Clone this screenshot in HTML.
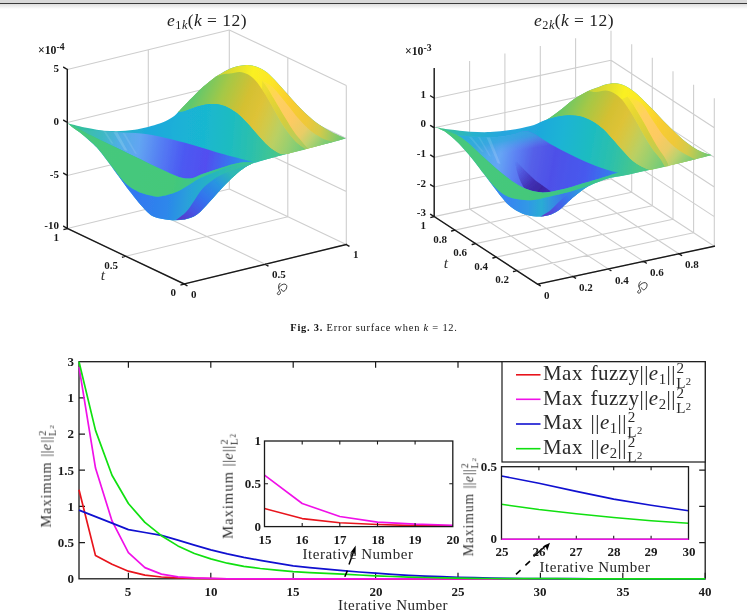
<!DOCTYPE html>
<html><head><meta charset="utf-8"><title>fig</title>
<style>
html,body{margin:0;padding:0;background:#fff;}
body{width:747px;height:611px;position:relative;overflow:hidden;font-family:"Liberation Serif",serif;}
.t{position:absolute;white-space:nowrap;line-height:1;will-change:transform;}
.m{font-style:italic;}
sup,sub{line-height:0;font-size:70%;}
.ss{display:inline-block;position:relative;width:1.1em;}
.ss sup{position:absolute;left:0.05em;top:-0.8em;font-size:72%;}
.ss sub{position:absolute;left:0.02em;top:0.22em;font-size:72%;}
.s1{vertical-align:-0.25em;}
</style></head><body>
<div style="position:absolute;left:0;top:0;width:747px;height:3px;background:#d9d9d9"></div>
<div style="position:absolute;left:0;top:3px;width:747px;height:1px;background:#3a3a3a"></div>
<div style="position:absolute;left:0;top:4px;width:747px;height:5px;background:linear-gradient(#dedede,#fff)"></div>
<svg width="747" height="611" viewBox="0 0 747 611" style="position:absolute;left:0;top:0">

<rect x="79.0" y="361.7" width="626.2" height="217.1" fill="none" stroke="#1a1a1a" stroke-width="1.3"/>
<path d="M128.4 578.8 v-6 M128.4 361.7 v6 M210.8 578.8 v-6 M210.8 361.7 v6 M293.2 578.8 v-6 M293.2 361.7 v6 M375.6 578.8 v-6 M375.6 361.7 v6 M458.0 578.8 v-6 M458.0 361.7 v6 M540.4 578.8 v-6 M540.4 361.7 v6 M622.8 578.8 v-6 M622.8 361.7 v6 M705.2 578.8 v-6 M705.2 361.7 v6 M79.0 542.6 h6 M705.2 542.6 h-6 M79.0 506.4 h6 M705.2 506.4 h-6 M79.0 470.2 h6 M705.2 470.2 h-6 M79.0 434.1 h6 M705.2 434.1 h-6 M79.0 397.9 h6 M705.2 397.9 h-6" stroke="#1a1a1a" stroke-width="1.2" fill="none"/>
<path d="M79.0 489.8 L95.5 555.6 L112.0 564.3 L128.4 571.2 L144.9 575.2 L161.4 577.0 L177.9 577.9 L194.4 578.4 L210.8 578.6 L227.3 578.8 L243.8 578.8 L260.3 578.8 L276.7 578.8 L293.2 578.8 L309.7 578.8 L326.2 578.8 L342.7 578.8 L359.1 578.8 L375.6 578.8 L392.1 578.8 L408.6 578.8 L425.1 578.8 L441.5 578.8 L458.0 578.8 L474.5 578.8 L491.0 578.8 L507.5 578.8 L523.9 578.8 L540.4 578.8 L556.9 578.8 L573.4 578.8 L589.8 578.8 L606.3 578.8 L622.8 578.8 L639.3 578.8 L655.8 578.8 L672.2 578.8 L688.7 578.8 L705.2 578.8" fill="none" stroke="#e8141c" stroke-width="1.7" stroke-linejoin="round"/>
<path d="M79.0 366.8 L95.5 468.1 L112.0 520.9 L128.4 552.7 L144.9 567.6 L161.4 574.1 L177.9 576.8 L194.4 577.9 L210.8 578.4 L227.3 578.8 L243.8 578.8 L260.3 578.8 L276.7 578.8 L293.2 578.8 L309.7 578.8 L326.2 578.8 L342.7 578.8 L359.1 578.8 L375.6 578.8 L392.1 578.8 L408.6 578.8 L425.1 578.8 L441.5 578.8 L458.0 578.8 L474.5 578.8 L491.0 578.8 L507.5 578.8 L523.9 578.8 L540.4 578.8 L556.9 578.8 L573.4 578.8 L589.8 578.8 L606.3 578.8 L622.8 578.8 L639.3 578.8 L655.8 578.8 L672.2 578.8 L688.7 578.8 L705.2 578.8" fill="none" stroke="#f010e8" stroke-width="1.7" stroke-linejoin="round"/>
<path d="M79.0 510.1 L95.5 516.6 L112.0 523.1 L128.4 529.6 L144.9 532.5 L161.4 535.4 L177.9 540.1 L194.4 545.1 L210.8 549.9 L227.3 553.8 L243.8 557.3 L260.3 560.3 L276.7 563.2 L293.2 565.8 L309.7 567.6 L326.2 569.2 L342.7 570.7 L359.1 572.0 L375.6 573.2 L392.1 574.3 L408.6 575.3 L425.1 576.1 L441.5 576.7 L458.0 577.3 L474.5 577.7 L491.0 578.1 L507.5 578.3 L523.9 578.5 L540.4 578.6 L556.9 578.7 L573.4 578.7 L589.8 578.8 L606.3 578.8 L622.8 578.8 L639.3 578.8 L655.8 578.8 L672.2 578.8 L688.7 578.8 L705.2 578.8" fill="none" stroke="#1010d0" stroke-width="1.7" stroke-linejoin="round"/>
<path d="M79.0 361.7 L95.5 430.4 L112.0 475.3 L128.4 503.5 L144.9 522.4 L161.4 535.7 L177.9 545.9 L194.4 553.5 L210.8 558.9 L227.3 563.2 L243.8 566.4 L260.3 568.5 L276.7 570.2 L293.2 571.6 L309.7 572.6 L326.2 573.4 L342.7 574.2 L359.1 575.0 L375.6 575.8 L392.1 576.5 L408.6 577.1 L425.1 577.5 L441.5 577.9 L458.0 578.1 L474.5 578.4 L491.0 578.5 L507.5 578.6 L523.9 578.7 L540.4 578.7 L556.9 578.7 L573.4 578.8 L589.8 578.8 L606.3 578.8 L622.8 578.8 L639.3 578.8 L655.8 578.8 L672.2 578.8 L688.7 578.8 L705.2 578.8" fill="none" stroke="#10e010" stroke-width="1.7" stroke-linejoin="round"/>
<rect x="502.0" y="361.7" width="203.2" height="100.3" fill="#fff" stroke="#1a1a1a" stroke-width="1.2"/>
<path d="M516 374.8 H540.5" stroke="#e8141c" stroke-width="1.6"/>
<path d="M516 399.3 H540.5" stroke="#f010e8" stroke-width="1.6"/>
<path d="M516 424.0 H540.5" stroke="#1010d0" stroke-width="1.6"/>
<path d="M516 448.7 H540.5" stroke="#10e010" stroke-width="1.6"/>
<rect x="264.5" y="441.0" width="188.3" height="85.6" fill="#fff" stroke="none"/>
<path d="M264.5 508.6 L302.2 518.6 L339.8 522.7 L377.5 524.5 L415.1 525.6 L452.8 525.9" fill="none" stroke="#e8141c" stroke-width="1.6" stroke-linejoin="round"/>
<path d="M264.5 475.2 L302.2 503.5 L339.8 516.5 L377.5 522.1 L415.1 524.1 L452.8 525.2" fill="none" stroke="#f010e8" stroke-width="1.6" stroke-linejoin="round"/>
<rect x="264.5" y="441.0" width="188.3" height="85.6" fill="none" stroke="#1a1a1a" stroke-width="1.3"/>
<path d="M302.2 526.6 v-3.5 M302.2 441.0 v3.5 M339.8 526.6 v-3.5 M339.8 441.0 v3.5 M377.5 526.6 v-3.5 M377.5 441.0 v3.5 M415.1 526.6 v-3.5 M415.1 441.0 v3.5 M264.5 483.8 h3.5 M452.8 483.8 h-3.5" stroke="#1a1a1a" stroke-width="1.1" fill="none"/>
<rect x="501.5" y="466.7" width="187.0" height="72.6" fill="#fff" stroke="none"/>
<path d="M501.5 476.0 L538.9 483.3 L576.3 491.4 L613.7 499.1 L651.1 505.3 L688.5 510.7" fill="none" stroke="#1010d0" stroke-width="1.6" stroke-linejoin="round"/>
<path d="M501.5 504.3 L538.9 509.5 L576.3 513.7 L613.7 517.5 L651.1 520.7 L688.5 523.3" fill="none" stroke="#10e010" stroke-width="1.6" stroke-linejoin="round"/>
<rect x="501.5" y="466.7" width="187.0" height="72.6" fill="none" stroke="#1a1a1a" stroke-width="1.3"/>
<path d="M538.9 539.3 v-3.5 M538.9 466.7 v3.5 M576.3 539.3 v-3.5 M576.3 466.7 v3.5 M613.7 539.3 v-3.5 M613.7 466.7 v3.5 M651.1 539.3 v-3.5 M651.1 466.7 v3.5" stroke="#1a1a1a" stroke-width="1.1" fill="none"/>
<path d="M501.5 539.3 H688.5" stroke="#f010e8" stroke-width="1.6"/>
<path d="M344.8 576.8 L347.4 570.6 M349 564.6 L353.6 551.8" stroke="#000" stroke-width="1.5" fill="none"/>
<path d="M355.7 545.6 L350.2 552.9 L353.3 551.9 L355.6 554.6 Z" fill="#000"/>
<path d="M516 574.4 L520.6 570.2 M525.4 565.4 L530 561.2 M533.6 556.5 L546.6 545" stroke="#000" stroke-width="1.6" fill="none"/>
<path d="M550 542.7 L542.6 546.6 L546.0 547.3 L547.2 550.8 Z" fill="#000"/>
<path d="M67.3 228.5 L229.3 189.0 M229.3 189.0 L346.3 244.5 M67.3 175.5 L229.3 136.0 M229.3 136.0 L346.3 191.5 M67.3 122.5 L229.3 83.0 M229.3 83.0 L346.3 138.5 M67.3 69.5 L229.3 30.0 M229.3 30.0 L346.3 85.5 M148.3 208.8 L148.3 49.8 M148.3 208.8 L265.3 264.2 M229.3 189.0 L229.3 30.0 M229.3 189.0 L346.3 244.5 M67.3 228.5 L67.3 69.5 M67.3 228.5 L184.3 284.0 M287.8 216.8 L287.8 57.8 M287.8 216.8 L125.8 256.2 M229.3 189.0 L229.3 30.0 M229.3 189.0 L67.3 228.5 M346.3 244.5 L346.3 85.5 M346.3 244.5 L184.3 284.0" stroke="#cecece" stroke-width="1.1" fill="none"/>
<path d="M67.3 228.5 L67.3 69.5 M67.3 228.5 L184.3 284.0 M184.3 284.0 L346.3 244.5 M67.3 69.5 L63.8 67.3 M67.3 122.5 L63.8 120.3 M67.3 175.5 L63.8 173.3 M67.3 228.5 L63.8 226.3 M184.3 284.0 L186.9 285.6 M265.3 264.2 L267.9 265.9 M346.3 244.5 L348.9 246.1 M184.3 284.0 L181.1 284.9 M125.8 256.2 L122.6 257.1 M67.3 228.5 L64.1 229.4" stroke="#1a1a1a" stroke-width="1.4" fill="none" stroke-linecap="square"/>
<g transform="translate(282.0 289.0)" fill="none" stroke="#2e2e2e" stroke-width="0.95" stroke-linecap="round" stroke-linejoin="round"><path d="M-1.9 -5.8 C-3.2 -4.5 -3.6 -3 -3.5 -1.5 C-3.4 0.2 -2.4 1.5 -1.8 2.7 C-1.2 3.8 -1.6 5 -2.8 5.5 C-4 6 -4.9 5.2 -4.6 4.2 C-4.4 3.6 -3.9 3.1 -3.5 2.8"/><path d="M-3.1 -1.2 C-2.4 -2.6 -0.8 -4.3 1.5 -4.8 C3.5 -5.2 4.9 -4 4.8 -2.5 C4.7 -0.5 3.6 1.4 2 2.2 C0.8 2.8 -0.2 1.5 -0.8 0.3"/></g>
<path d="M434.2 216.6 L611.0 178.7 M611.0 178.7 L714.3 246.2 M434.2 187.0 L611.0 149.1 M611.0 149.1 L714.3 216.6 M434.2 157.4 L611.0 119.5 M611.0 119.5 L714.3 187.0 M434.2 127.8 L611.0 89.9 M611.0 89.9 L714.3 157.4 M434.2 98.2 L611.0 60.3 M611.0 60.3 L714.3 127.8 M469.6 209.0 L469.6 61.0 M469.6 209.0 L572.9 276.5 M504.9 201.4 L504.9 53.4 M504.9 201.4 L608.2 268.9 M540.3 193.9 L540.3 45.9 M540.3 193.9 L643.6 261.4 M575.6 186.3 L575.6 38.3 M575.6 186.3 L678.9 253.8 M611.0 178.7 L611.0 30.7 M611.0 178.7 L714.3 246.2 M434.2 216.6 L434.2 68.6 M434.2 216.6 L537.5 284.1 M693.6 232.7 L693.6 84.7 M693.6 232.7 L516.8 270.6 M673.0 219.2 L673.0 71.2 M673.0 219.2 L496.2 257.1 M652.3 205.7 L652.3 57.7 M652.3 205.7 L475.5 243.6 M631.7 192.2 L631.7 44.2 M631.7 192.2 L454.9 230.1 M611.0 178.7 L611.0 30.7 M611.0 178.7 L434.2 216.6 M714.3 246.2 L714.3 98.2 M714.3 246.2 L537.5 284.1" stroke="#cecece" stroke-width="1.1" fill="none"/>
<path d="M434.2 216.6 L434.2 68.6 M434.2 216.6 L537.5 284.1 M537.5 284.1 L714.3 246.2 M434.2 98.2 L430.7 96.0 M434.2 127.8 L430.7 125.6 M434.2 157.4 L430.7 155.2 M434.2 187.0 L430.7 184.8 M434.2 216.6 L430.7 214.4 M537.5 284.1 L540.1 285.7 M572.9 276.5 L575.5 278.1 M608.2 268.9 L610.8 270.5 M643.6 261.4 L646.2 263.0 M678.9 253.8 L681.5 255.4 M516.8 270.6 L513.6 271.5 M496.2 257.1 L493.0 258.0 M475.5 243.6 L472.3 244.5 M454.9 230.1 L451.7 231.0 M434.2 216.6 L431.0 217.5" stroke="#1a1a1a" stroke-width="1.4" fill="none" stroke-linecap="square"/>
<g transform="translate(642.3 287.5)" fill="none" stroke="#2e2e2e" stroke-width="0.95" stroke-linecap="round" stroke-linejoin="round"><path d="M-1.9 -5.8 C-3.2 -4.5 -3.6 -3 -3.5 -1.5 C-3.4 0.2 -2.4 1.5 -1.8 2.7 C-1.2 3.8 -1.6 5 -2.8 5.5 C-4 6 -4.9 5.2 -4.6 4.2 C-4.4 3.6 -3.9 3.1 -3.5 2.8"/><path d="M-3.1 -1.2 C-2.4 -2.6 -0.8 -4.3 1.5 -4.8 C3.5 -5.2 4.9 -4 4.8 -2.5 C4.7 -0.5 3.6 1.4 2 2.2 C0.8 2.8 -0.2 1.5 -0.8 0.3"/></g>
<defs><linearGradient id="s1base" gradientUnits="userSpaceOnUse" x1="67.0" y1="125.0" x2="346.0" y2="138.0"><stop offset="0.000" stop-color="#3cc38c"/><stop offset="0.120" stop-color="#28b9b9"/><stop offset="0.300" stop-color="#1eaadc"/><stop offset="0.500" stop-color="#19b4d2"/><stop offset="0.700" stop-color="#28beaf"/><stop offset="1.000" stop-color="#50c87d"/></linearGradient><linearGradient id="s1yel" gradientUnits="userSpaceOnUse" x1="190.0" y1="100.0" x2="346.0" y2="138.0"><stop offset="0.000" stop-color="#96cd55"/><stop offset="0.180" stop-color="#d7d732"/><stop offset="0.340" stop-color="#faf023"/><stop offset="0.460" stop-color="#fce628"/><stop offset="0.600" stop-color="#facd30"/><stop offset="0.740" stop-color="#eec83a"/><stop offset="0.830" stop-color="#d4ca4a"/><stop offset="0.920" stop-color="#96ca64"/><stop offset="1.000" stop-color="#5fc876"/></linearGradient><linearGradient id="s1yg" gradientUnits="userSpaceOnUse" x1="250.0" y1="72.0" x2="338.0" y2="143.0"><stop offset="0.000" stop-color="#f8ee28"/><stop offset="0.250" stop-color="#e8d732"/><stop offset="0.500" stop-color="#d4cd3e"/><stop offset="0.700" stop-color="#b9cd5a"/><stop offset="0.880" stop-color="#8ccb6c"/><stop offset="1.000" stop-color="#64c876"/></linearGradient><linearGradient id="s1pe" gradientUnits="userSpaceOnUse" x1="250.0" y1="72.0" x2="338.0" y2="143.0"><stop offset="0.000" stop-color="#faee28"/><stop offset="0.160" stop-color="#fbe434"/><stop offset="0.340" stop-color="#ffd05f"/><stop offset="0.550" stop-color="#fdca62"/><stop offset="0.700" stop-color="#e8cd66"/><stop offset="0.790" stop-color="#bed26e"/><stop offset="0.900" stop-color="#84cd73"/><stop offset="1.000" stop-color="#64c876"/></linearGradient><linearGradient id="s1ol" gradientUnits="userSpaceOnUse" x1="190.5" y1="103.8" x2="312.0" y2="153.3"><stop offset="0.000" stop-color="#5fc86e"/><stop offset="0.200" stop-color="#a5c846"/><stop offset="0.380" stop-color="#d4c032"/><stop offset="0.500" stop-color="#dec337"/><stop offset="0.600" stop-color="#d0ca4b"/><stop offset="0.700" stop-color="#b9d064"/><stop offset="0.800" stop-color="#9bcf6e"/><stop offset="0.900" stop-color="#7acc76"/><stop offset="1.000" stop-color="#5fc87a"/></linearGradient><linearGradient id="s1cy" gradientUnits="userSpaceOnUse" x1="150.0" y1="130.0" x2="330.0" y2="146.0"><stop offset="0.000" stop-color="#1caade"/><stop offset="0.300" stop-color="#19b7d0"/><stop offset="0.450" stop-color="#1ebcc0"/><stop offset="0.580" stop-color="#2dc0aa"/><stop offset="0.740" stop-color="#4bc887"/><stop offset="0.900" stop-color="#55c87d"/><stop offset="1.000" stop-color="#58c87c"/></linearGradient><linearGradient id="s1blue" gradientUnits="userSpaceOnUse" x1="85.0" y1="135.0" x2="255.0" y2="162.0"><stop offset="0.000" stop-color="#3cbeaa"/><stop offset="0.100" stop-color="#3eb9c3"/><stop offset="0.200" stop-color="#50afe4"/><stop offset="0.320" stop-color="#62a5f2"/><stop offset="0.450" stop-color="#547df3"/><stop offset="0.580" stop-color="#4c5af2"/><stop offset="0.720" stop-color="#524ef0"/><stop offset="0.880" stop-color="#327dee"/><stop offset="1.000" stop-color="#28a0e1"/></linearGradient><linearGradient id="s1low" gradientUnits="userSpaceOnUse" x1="95.0" y1="150.0" x2="250.0" y2="168.0"><stop offset="0.000" stop-color="#3782f0"/><stop offset="0.300" stop-color="#3278f0"/><stop offset="0.500" stop-color="#2d87eb"/><stop offset="0.650" stop-color="#28a5d7"/><stop offset="0.800" stop-color="#28b9b9"/><stop offset="1.000" stop-color="#3cc396"/></linearGradient><linearGradient id="s1bot" gradientUnits="userSpaceOnUse" x1="185.0" y1="222.0" x2="230.0" y2="172.0"><stop offset="0.000" stop-color="#553ccd"/><stop offset="0.200" stop-color="#4655e4"/><stop offset="0.450" stop-color="#3273ee"/><stop offset="0.750" stop-color="#2896e1"/><stop offset="1.000" stop-color="#2db9b4"/></linearGradient><linearGradient id="s1gr" gradientUnits="userSpaceOnUse" x1="70.0" y1="125.0" x2="255.0" y2="165.0"><stop offset="0.000" stop-color="#46c87d"/><stop offset="0.600" stop-color="#44c87a"/><stop offset="0.800" stop-color="#37c396"/><stop offset="1.000" stop-color="#3cc591"/></linearGradient><linearGradient id="s2base" gradientUnits="userSpaceOnUse" x1="434.0" y1="128.0" x2="712.0" y2="155.0"><stop offset="0.000" stop-color="#48c680"/><stop offset="0.060" stop-color="#32bea5"/><stop offset="0.140" stop-color="#28b2cd"/><stop offset="0.250" stop-color="#28a5de"/><stop offset="0.400" stop-color="#20acda"/><stop offset="0.550" stop-color="#1cb9cd"/><stop offset="0.800" stop-color="#37c39b"/><stop offset="1.000" stop-color="#55c87d"/></linearGradient><linearGradient id="s2yel" gradientUnits="userSpaceOnUse" x1="560.0" y1="118.0" x2="712.0" y2="155.0"><stop offset="0.000" stop-color="#96cd55"/><stop offset="0.200" stop-color="#d7d732"/><stop offset="0.360" stop-color="#faf023"/><stop offset="0.480" stop-color="#fce628"/><stop offset="0.620" stop-color="#facd30"/><stop offset="0.750" stop-color="#eec83a"/><stop offset="0.840" stop-color="#d4ca4a"/><stop offset="0.930" stop-color="#96ca64"/><stop offset="1.000" stop-color="#5fc876"/></linearGradient><linearGradient id="s2yg" gradientUnits="userSpaceOnUse" x1="616.0" y1="88.0" x2="704.0" y2="159.0"><stop offset="0.000" stop-color="#f8ee28"/><stop offset="0.250" stop-color="#e8d732"/><stop offset="0.500" stop-color="#d4cd3e"/><stop offset="0.700" stop-color="#b9cd5a"/><stop offset="0.880" stop-color="#8ccb6c"/><stop offset="1.000" stop-color="#64c876"/></linearGradient><linearGradient id="s2pe" gradientUnits="userSpaceOnUse" x1="616.0" y1="88.0" x2="704.0" y2="159.0"><stop offset="0.000" stop-color="#faee28"/><stop offset="0.160" stop-color="#fbe434"/><stop offset="0.340" stop-color="#ffd05f"/><stop offset="0.550" stop-color="#fdca62"/><stop offset="0.700" stop-color="#e8cd66"/><stop offset="0.790" stop-color="#bed26e"/><stop offset="0.900" stop-color="#84cd73"/><stop offset="1.000" stop-color="#64c876"/></linearGradient><linearGradient id="s2ol" gradientUnits="userSpaceOnUse" x1="554.2" y1="113.5" x2="671.1" y2="170.8"><stop offset="0.000" stop-color="#5fc86e"/><stop offset="0.200" stop-color="#a5c846"/><stop offset="0.380" stop-color="#d4c032"/><stop offset="0.500" stop-color="#dec337"/><stop offset="0.600" stop-color="#d0ca4b"/><stop offset="0.700" stop-color="#b9d064"/><stop offset="0.800" stop-color="#9bcf6e"/><stop offset="0.900" stop-color="#7acc76"/><stop offset="1.000" stop-color="#5fc87a"/></linearGradient><linearGradient id="s2cy" gradientUnits="userSpaceOnUse" x1="520.0" y1="128.0" x2="690.0" y2="160.0"><stop offset="0.000" stop-color="#23a0e1"/><stop offset="0.250" stop-color="#1ab4d4"/><stop offset="0.420" stop-color="#1ebcc0"/><stop offset="0.560" stop-color="#2dc0aa"/><stop offset="0.720" stop-color="#4bc887"/><stop offset="0.900" stop-color="#55c87d"/><stop offset="1.000" stop-color="#58c87c"/></linearGradient><linearGradient id="s2blue" gradientUnits="userSpaceOnUse" x1="452.0" y1="140.0" x2="622.0" y2="172.0"><stop offset="0.000" stop-color="#3cc0a0"/><stop offset="0.070" stop-color="#37bbb9"/><stop offset="0.150" stop-color="#3ab2d4"/><stop offset="0.220" stop-color="#52aaec"/><stop offset="0.290" stop-color="#66a5f5"/><stop offset="0.380" stop-color="#5c82f3"/><stop offset="0.480" stop-color="#545fe8"/><stop offset="0.600" stop-color="#4e50e8"/><stop offset="0.800" stop-color="#465aee"/><stop offset="0.930" stop-color="#3778ee"/><stop offset="1.000" stop-color="#2d96e4"/></linearGradient><linearGradient id="s2dk" gradientUnits="userSpaceOnUse" x1="515" y1="162" x2="546" y2="192"><stop offset="0" stop-color="#4c42d7" stop-opacity="0"/><stop offset="0.3" stop-color="#483cc8" stop-opacity="0.55"/><stop offset="0.62" stop-color="#3f2cac" stop-opacity="0.95"/><stop offset="0.85" stop-color="#3a24a0" stop-opacity="1"/><stop offset="1" stop-color="#3e2aac" stop-opacity="1"/></linearGradient><linearGradient id="s2vt" gradientUnits="userSpaceOnUse" x1="486" y1="134" x2="490" y2="156"><stop offset="0" stop-color="#2aaedb" stop-opacity="1"/><stop offset="0.45" stop-color="#34a6e0" stop-opacity="0.8"/><stop offset="1" stop-color="#5a9cee" stop-opacity="0"/></linearGradient><clipPath id="s2vclip"><path d="M456.1 135.1 C459.2 135.4 468.5 136.5 475.0 136.8 C481.5 137.2 488.8 137.5 495.0 137.2 C501.2 136.9 506.5 135.7 512.0 134.8 C517.5 133.9 521.8 130.1 528.2 131.6 C534.6 133.1 543.2 140.2 550.2 144.0 C557.2 147.8 563.6 151.3 570.3 154.6 C577.0 157.9 584.4 161.3 590.4 163.8 C596.4 166.3 601.4 168.1 606.0 169.6 C610.6 171.1 616.0 172.3 618.0 172.8 L618.0 172.8 C616.0 173.4 610.3 175.2 606.0 176.5 C601.7 177.8 596.3 179.5 592.0 180.8 C587.7 182.1 584.3 183.0 580.0 184.3 C575.7 185.6 570.6 187.4 566.0 188.6 C561.4 189.8 556.8 190.8 552.5 191.4 C548.2 192.0 544.1 192.6 540.0 192.3 C535.9 192.0 531.8 190.9 528.0 189.6 C524.2 188.2 520.5 186.3 517.0 184.2 C513.5 182.1 510.4 179.7 507.0 177.2 C503.6 174.7 500.3 171.9 496.8 169.0 C493.3 166.1 489.6 162.7 486.2 159.6 C482.8 156.5 479.5 153.3 476.2 150.2 C472.9 147.1 469.5 143.8 466.1 141.2 C462.8 138.6 457.8 135.7 456.1 134.6 Z"/></clipPath><filter id="bl2" x="-20%" y="-20%" width="140%" height="140%"><feGaussianBlur stdDeviation="0.7"/></filter><linearGradient id="s2low" gradientUnits="userSpaceOnUse" x1="480.0" y1="175.0" x2="615.0" y2="178.0"><stop offset="0.000" stop-color="#3c87f2"/><stop offset="0.220" stop-color="#3787f0"/><stop offset="0.360" stop-color="#3098e6"/><stop offset="0.460" stop-color="#2aacd4"/><stop offset="0.620" stop-color="#3c78ec"/><stop offset="0.780" stop-color="#3096e2"/><stop offset="0.920" stop-color="#2ab6be"/><stop offset="1.000" stop-color="#3cc396"/></linearGradient><linearGradient id="s2bot" gradientUnits="userSpaceOnUse" x1="546.0" y1="217.0" x2="590.0" y2="186.0"><stop offset="0.000" stop-color="#5c3ecd"/><stop offset="0.220" stop-color="#4b55e4"/><stop offset="0.500" stop-color="#3a73ec"/><stop offset="0.780" stop-color="#2d9bde"/><stop offset="1.000" stop-color="#2db9bc"/></linearGradient><linearGradient id="s2gr" gradientUnits="userSpaceOnUse" x1="434.0" y1="128.0" x2="625.0" y2="175.0"><stop offset="0.000" stop-color="#48c87d"/><stop offset="0.550" stop-color="#44c87a"/><stop offset="0.800" stop-color="#3ac48c"/><stop offset="1.000" stop-color="#3ec591"/></linearGradient><filter id="bl" x="-5%" y="-5%" width="110%" height="110%"><feGaussianBlur stdDeviation="0.45"/></filter></defs><g filter="url(#bl)"><path d="M67.5 123.2 C70.4 123.9 77.9 126.1 84.9 127.4 C92.0 128.7 101.5 130.7 109.8 131.1 C118.1 131.5 126.4 131.1 134.7 129.8 C143.0 128.6 153.4 125.6 159.6 123.6 C165.8 121.5 168.6 119.7 172.0 117.5 C175.4 115.3 177.0 113.2 180.0 110.2 C183.0 107.2 186.2 103.6 189.9 99.8 C193.6 96.0 198.2 91.1 202.4 87.4 C206.6 83.7 210.7 80.3 214.8 77.4 C219.0 74.5 223.6 71.8 227.3 69.9 C231.0 68.0 233.9 67.0 237.2 66.2 C240.5 65.4 243.9 64.8 247.2 64.9 C250.5 65.0 253.9 65.7 257.2 66.9 C260.5 68.2 263.8 69.8 267.1 72.4 C270.4 75.0 273.8 78.9 277.1 82.4 C280.4 85.9 283.7 89.9 287.0 93.6 C290.3 97.3 293.7 101.3 297.0 104.8 C300.3 108.3 303.3 111.4 307.0 114.7 C310.7 118.0 315.2 121.8 319.4 124.7 C323.5 127.6 327.5 129.9 331.9 132.2 C336.3 134.5 343.5 137.5 345.8 138.6 L345.8 138.6 C341.4 139.8 327.9 143.4 319.4 145.6 C310.8 147.8 302.8 149.8 294.5 151.9 C286.2 154.0 276.7 156.5 269.6 158.4 C262.6 160.3 255.1 162.7 252.2 163.6 L252.2 163.6 C250.9 164.3 247.6 165.6 244.7 167.6 C241.8 169.6 238.2 172.5 234.5 175.8 C230.8 179.1 226.7 183.0 222.5 187.4 C218.3 191.8 213.7 197.5 209.4 202.0 C205.2 206.5 201.2 211.6 197.0 214.5 C192.8 217.4 189.1 218.6 184.5 219.5 C179.9 220.4 174.6 220.4 169.6 220.0 C164.6 219.6 158.2 218.2 154.6 217.0 C151.0 215.8 149.9 214.2 147.8 212.5 C145.7 210.8 143.9 208.4 142.2 206.5 C140.5 204.6 139.5 203.5 137.4 201.0 C135.3 198.5 131.9 194.1 129.7 191.3 C127.5 188.5 126.4 186.8 124.3 184.0 C122.2 181.2 119.5 177.5 117.3 174.5 C115.1 171.5 113.3 168.8 111.2 166.0 C109.1 163.2 107.0 160.3 104.8 157.5 C102.6 154.7 100.2 151.4 98.1 149.0 C96.0 146.6 94.3 145.1 92.4 143.3 C90.5 141.5 88.6 139.8 86.5 138.0 C84.4 136.2 82.1 134.3 79.9 132.6 C77.7 130.9 75.5 129.6 73.4 128.0 C71.3 126.4 68.5 124.0 67.5 123.2 Z" fill="url(#s1base)"/><path d="M178.5 111.8 C178.8 111.5 178.1 112.2 180.0 110.2 C181.9 108.2 186.2 103.6 189.9 99.8 C193.6 96.0 198.2 91.1 202.4 87.4 C206.6 83.7 210.7 80.3 214.8 77.4 C219.0 74.5 223.6 71.8 227.3 69.9 C231.0 68.0 233.9 67.0 237.2 66.2 C240.5 65.4 243.9 64.8 247.2 64.9 C250.5 65.0 253.9 65.7 257.2 66.9 C260.5 68.2 263.8 69.8 267.1 72.4 C270.4 75.0 273.8 78.9 277.1 82.4 C280.4 85.9 283.7 89.9 287.0 93.6 C290.3 97.3 293.7 101.3 297.0 104.8 C300.3 108.3 303.3 111.4 307.0 114.7 C310.7 118.0 315.2 121.8 319.4 124.7 C323.5 127.6 327.5 129.9 331.9 132.2 C336.3 134.5 343.5 137.5 345.8 138.6 L345.8 138.6 C341.4 139.8 328.4 143.3 319.4 145.6 C310.4 147.9 296.6 151.4 292.0 152.6 L292.0 152.6 C290.7 152.9 286.2 154.2 284.0 154.3 C281.8 154.4 280.8 154.2 278.7 153.2 C276.6 152.2 273.4 150.1 271.2 148.5 C269.0 146.9 267.4 145.3 265.5 143.5 C263.6 141.7 261.9 139.7 260.0 137.6 C258.1 135.5 256.2 133.2 254.3 131.0 C252.4 128.8 250.8 126.8 248.7 124.6 C246.6 122.4 244.2 119.7 242.0 117.6 C239.8 115.5 238.1 113.8 235.6 112.0 C233.1 110.2 229.6 108.2 227.0 107.0 C224.4 105.8 222.1 105.1 219.8 104.6 C217.5 104.1 215.6 104.0 213.1 104.0 C210.6 104.0 207.6 104.1 204.9 104.5 C202.2 104.9 199.1 105.9 197.0 106.5 C194.9 107.1 194.4 107.5 192.4 108.3 C190.4 109.0 187.3 110.3 185.0 111.0 C182.7 111.7 179.6 112.0 178.5 112.2 Z" fill="url(#s1yel)"/><path d="M262.1 89.5 C263.2 91.2 266.5 96.4 268.6 100.0 C270.8 103.6 272.9 107.5 275.0 111.2 C277.1 115.0 279.3 119.0 281.4 122.5 C283.5 126.0 285.6 129.2 287.8 132.1 C290.0 135.0 292.2 137.8 294.3 140.1 C296.4 142.4 298.8 144.3 300.7 145.8 C302.6 147.3 305.1 148.7 306.0 149.3 L306.0 149.3 C306.4 149.2 308.1 148.7 308.5 148.6 L308.5 148.6 C307.9 148.1 306.5 147.0 305.2 145.6 C303.9 144.2 302.5 142.3 300.7 140.1 C298.9 137.8 296.7 135.6 294.3 132.1 C291.9 128.6 289.1 124.1 286.2 119.3 C283.2 114.5 279.8 108.6 276.6 103.2 C273.4 97.8 269.3 90.9 266.9 87.1 C264.5 83.3 262.8 81.6 262.0 80.5 L262.0 80.5 C262.0 82.0 262.1 88.0 262.1 89.5 Z" fill="url(#s1yg)"/><path d="M262.0 80.5 C263.9 81.7 269.4 84.1 273.4 87.9 C277.4 91.7 281.9 98.0 286.2 103.2 C290.5 108.4 295.1 114.8 299.1 119.3 C303.1 123.8 306.8 127.6 310.3 130.5 C313.8 133.4 317.1 135.2 320.0 136.9 C322.9 138.6 325.8 139.7 328.0 140.6 C330.2 141.5 332.2 141.8 333.0 142.1 L333.0 142.1 C328.9 143.2 312.6 147.5 308.5 148.6 L308.5 148.6 C307.9 148.1 306.5 147.0 305.2 145.6 C303.9 144.2 302.5 142.3 300.7 140.1 C298.9 137.8 296.7 135.6 294.3 132.1 C291.9 128.6 289.1 124.1 286.2 119.3 C283.2 114.5 279.8 108.6 276.6 103.2 C273.4 97.8 269.3 90.9 266.9 87.1 C264.5 83.3 262.8 81.6 262.0 80.5 Z" fill="url(#s1pe)"/><path d="M178.5 111.8 C178.8 111.5 178.1 112.2 180.0 110.2 C181.9 108.2 186.2 103.6 189.9 99.8 C193.6 96.0 198.2 91.1 202.4 87.4 C206.6 83.7 212.5 79.2 214.8 77.4 C217.1 75.6 215.8 76.7 216.0 76.5 L216.0 76.5 C217.2 76.1 220.7 74.8 223.0 74.3 C225.3 73.8 227.2 73.9 230.0 73.5 C232.8 73.1 236.7 71.8 239.6 71.9 C242.5 72.0 245.0 72.8 247.7 74.3 C250.4 75.8 253.3 78.2 255.7 80.7 C258.1 83.2 260.0 86.3 262.1 89.5 C264.2 92.7 266.5 96.4 268.6 100.0 C270.8 103.6 272.9 107.5 275.0 111.2 C277.1 115.0 279.3 119.0 281.4 122.5 C283.5 126.0 285.6 129.2 287.8 132.1 C290.0 135.0 292.2 137.8 294.3 140.1 C296.4 142.4 298.8 144.3 300.7 145.8 C302.6 147.3 305.1 148.7 306.0 149.3 L306.0 149.3 C303.7 149.9 294.3 152.1 292.0 152.6 L292.0 152.6 C290.7 152.9 286.2 154.2 284.0 154.3 C281.8 154.4 280.8 154.2 278.7 153.2 C276.6 152.2 273.4 150.1 271.2 148.5 C269.0 146.9 267.4 145.3 265.5 143.5 C263.6 141.7 261.9 139.7 260.0 137.6 C258.1 135.5 256.2 133.2 254.3 131.0 C252.4 128.8 250.8 126.8 248.7 124.6 C246.6 122.4 244.2 119.7 242.0 117.6 C239.8 115.5 238.1 113.8 235.6 112.0 C233.1 110.2 229.6 108.2 227.0 107.0 C224.4 105.8 222.1 105.1 219.8 104.6 C217.5 104.1 215.6 104.0 213.1 104.0 C210.6 104.0 207.6 104.1 204.9 104.5 C202.2 104.9 199.1 105.9 197.0 106.5 C194.9 107.1 194.4 107.5 192.4 108.3 C190.4 109.0 187.3 110.3 185.0 111.0 C182.7 111.7 179.6 112.0 178.5 112.2 Z" fill="url(#s1ol)"/><path d="M178.5 112.2 C179.6 112.0 182.7 111.7 185.0 111.0 C187.3 110.3 190.4 109.0 192.4 108.3 C194.4 107.5 194.9 107.1 197.0 106.5 C199.1 105.9 202.2 104.9 204.9 104.5 C207.6 104.1 210.6 104.0 213.1 104.0 C215.6 104.0 217.5 104.1 219.8 104.6 C222.1 105.1 224.4 105.8 227.0 107.0 C229.6 108.2 233.1 110.2 235.6 112.0 C238.1 113.8 239.8 115.5 242.0 117.6 C244.2 119.7 246.6 122.4 248.7 124.6 C250.8 126.8 252.4 128.8 254.3 131.0 C256.2 133.2 258.1 135.5 260.0 137.6 C261.9 139.7 263.6 141.7 265.5 143.5 C267.4 145.3 269.0 146.9 271.2 148.5 C273.4 150.1 276.6 152.2 278.7 153.2 C280.8 154.2 281.8 154.4 284.0 154.3 C286.2 154.2 290.7 152.9 292.0 152.6 L292.0 152.6 C288.3 153.6 275.8 156.8 269.6 158.4 C263.4 160.0 257.2 161.7 254.7 162.4 L254.7 162.4 C253.0 162.0 250.2 161.2 244.7 159.8 C239.2 158.4 229.4 155.9 221.9 153.8 C214.4 151.7 203.2 148.1 199.4 147.0 L172.1 139.6 C172.1 137.2 170.9 129.6 172.0 125.0 C173.1 120.4 177.4 114.3 178.5 112.2 Z" fill="url(#s1cy)"/><path d="M80.0 129.5 C81.3 129.6 85.3 130.1 88.0 130.2 C90.7 130.3 92.3 130.0 96.0 130.2 C99.7 130.4 105.2 131.2 110.0 131.6 C114.8 132.0 118.8 132.2 125.0 132.6 C131.2 133.0 139.3 133.0 147.2 134.2 C155.0 135.4 163.4 137.5 172.1 139.6 C180.8 141.7 191.1 144.6 199.4 147.0 C207.7 149.4 214.4 151.7 221.9 153.8 C229.4 155.9 239.2 158.4 244.7 159.8 C250.2 161.2 253.0 162.0 254.7 162.4 L254.7 162.4 C252.2 162.5 245.5 161.8 239.7 162.8 C233.9 163.8 226.0 166.3 219.8 168.2 C213.6 170.1 207.0 172.3 202.4 174.0 C197.8 175.7 195.8 177.7 192.0 178.2 C188.2 178.7 184.9 178.8 179.5 177.2 C174.1 175.6 167.1 172.0 159.6 168.6 C152.1 165.2 143.0 160.5 134.7 156.5 C126.4 152.5 117.3 148.1 109.8 144.5 C102.3 140.9 94.9 137.3 89.9 134.8 C84.9 132.3 81.7 130.4 80.0 129.5 Z" fill="url(#s1blue)"/><path d="M113.5 132.2 L117.5 132.6 L127.5 150.8 L124.5 150.2 Z" fill="#fff" opacity="0.15"/><path d="M103.5 131.4 L106 131.8 L113.5 143.8 L111.5 143.4 Z" fill="#fff" opacity="0.10"/><path d="M122.5 133 L125 133.2 L137 154 L135 153.6 Z" fill="#fff" opacity="0.10"/><path d="M67.5 123.2 C68.5 124.0 71.3 126.4 73.4 127.9 C75.5 129.4 77.7 130.8 79.9 132.4 C82.1 134.1 84.4 136.0 86.5 137.8 C88.6 139.6 90.5 141.3 92.4 143.1 C94.3 144.9 96.0 146.4 98.1 148.8 C100.2 151.2 102.6 154.5 104.8 157.3 C107.0 160.1 109.5 163.5 111.2 165.7 C112.9 167.9 113.6 168.6 115.0 170.4 C116.4 172.2 118.0 174.6 119.5 176.5 C121.0 178.4 122.6 180.4 124.3 182.1 C126.0 183.8 127.5 185.3 129.7 186.8 C131.9 188.3 135.3 190.2 137.4 191.3 C139.5 192.4 140.0 192.6 142.2 193.3 C144.4 194.0 147.6 195.1 150.5 195.6 C153.4 196.1 155.2 197.2 159.6 196.6 C164.0 196.0 171.6 194.1 177.0 191.8 C182.4 189.5 188.3 185.2 192.0 183.0 C195.7 180.8 195.6 180.4 199.4 178.6 C203.2 176.8 209.1 174.2 215.0 172.0 C220.9 169.8 228.8 166.6 235.0 165.2 C241.2 163.8 249.3 163.9 252.2 163.6 L252.2 163.6 C250.9 164.3 247.6 165.6 244.7 167.6 C241.8 169.6 238.2 172.5 234.5 175.8 C230.8 179.1 226.7 183.0 222.5 187.4 C218.3 191.8 213.7 197.5 209.4 202.0 C205.2 206.5 201.2 211.6 197.0 214.5 C192.8 217.4 189.1 218.6 184.5 219.5 C179.9 220.4 174.6 220.4 169.6 220.0 C164.6 219.6 158.2 218.2 154.6 217.0 C151.0 215.8 149.9 214.2 147.8 212.5 C145.7 210.8 143.9 208.4 142.2 206.5 C140.5 204.6 139.5 203.5 137.4 201.0 C135.3 198.5 131.9 194.1 129.7 191.3 C127.5 188.5 126.4 186.8 124.3 184.0 C122.2 181.2 119.5 177.5 117.3 174.5 C115.1 171.5 113.3 168.8 111.2 166.0 C109.1 163.2 107.0 160.3 104.8 157.5 C102.6 154.7 100.2 151.4 98.1 149.0 C96.0 146.6 94.3 145.1 92.4 143.3 C90.5 141.5 88.6 139.8 86.5 138.0 C84.4 136.2 82.1 134.3 79.9 132.6 C77.7 130.9 75.5 129.6 73.4 128.0 C71.3 126.4 68.5 124.0 67.5 123.2 Z" fill="url(#s1low)"/><path d="M176.0 220.0 C177.7 218.7 183.0 215.2 186.0 212.0 C189.0 208.8 191.5 204.6 194.0 201.0 C196.5 197.4 198.4 193.6 201.0 190.5 C203.6 187.4 205.9 185.2 209.4 182.5 C212.9 179.8 217.2 176.8 222.0 174.5 C226.8 172.2 233.0 170.4 238.0 168.6 C243.0 166.8 249.8 164.4 252.2 163.6 L252.2 163.6 C250.9 164.3 247.6 165.6 244.7 167.6 C241.8 169.6 238.2 172.5 234.5 175.8 C230.8 179.1 226.7 183.0 222.5 187.4 C218.3 191.8 213.7 197.5 209.4 202.0 C205.2 206.5 201.2 211.6 197.0 214.5 C192.8 217.4 186.6 218.7 184.5 219.5 L184.5 219.5 C183.1 219.6 177.4 219.9 176.0 220.0 Z" fill="url(#s1bot)"/><path d="M67.5 123.2 C69.6 124.2 76.3 127.6 80.0 129.5 C83.7 131.4 84.9 132.3 89.9 134.8 C94.9 137.3 102.3 140.9 109.8 144.5 C117.3 148.1 126.4 152.5 134.7 156.5 C143.0 160.5 152.1 165.2 159.6 168.6 C167.1 172.0 174.1 175.6 179.5 177.2 C184.9 178.8 188.2 178.7 192.0 178.2 C195.8 177.7 197.8 175.7 202.4 174.0 C207.0 172.3 213.6 170.1 219.8 168.2 C226.0 166.3 233.9 163.8 239.7 162.8 C245.5 161.8 252.2 162.5 254.7 162.4 L254.7 162.4 C254.3 162.6 252.6 163.4 252.2 163.6 L252.2 163.6 C249.3 163.9 241.2 163.8 235.0 165.2 C228.8 166.6 220.9 169.8 215.0 172.0 C209.1 174.2 203.2 176.8 199.4 178.6 C195.6 180.4 195.7 180.8 192.0 183.0 C188.3 185.2 182.4 189.5 177.0 191.8 C171.6 194.1 164.0 196.0 159.6 196.6 C155.2 197.2 153.4 196.1 150.5 195.6 C147.6 195.1 144.4 194.0 142.2 193.3 C140.0 192.6 139.5 192.4 137.4 191.3 C135.3 190.2 131.9 188.3 129.7 186.8 C127.5 185.3 126.0 183.8 124.3 182.1 C122.6 180.4 121.0 178.4 119.5 176.5 C118.0 174.6 116.4 172.2 115.0 170.4 C113.6 168.6 112.9 167.9 111.2 165.7 C109.5 163.5 107.0 160.1 104.8 157.3 C102.6 154.5 100.2 151.2 98.1 148.8 C96.0 146.4 94.3 144.9 92.4 143.1 C90.5 141.3 88.6 139.6 86.5 137.8 C84.4 136.0 82.1 134.1 79.9 132.4 C77.7 130.8 75.5 129.4 73.4 127.9 C71.3 126.4 68.5 124.0 67.5 123.2 Z" fill="url(#s1gr)"/></g><g filter="url(#bl)"><path d="M434.6 126.9 C437.2 127.3 444.2 128.7 450.1 129.5 C456.0 130.3 463.5 131.3 470.2 131.7 C476.9 132.1 483.5 132.4 490.2 132.1 C496.9 131.8 503.6 131.1 510.3 130.1 C517.0 129.1 525.1 127.5 530.4 126.1 C535.7 124.7 538.9 122.9 542.2 121.5 C545.5 120.1 546.6 120.0 550.0 117.8 C553.4 115.6 558.2 111.8 562.4 108.6 C566.5 105.4 570.8 101.4 574.9 98.6 C579.0 95.8 583.8 93.2 587.3 91.5 C590.8 89.8 593.0 89.3 596.0 88.1 C599.0 86.9 602.4 85.3 605.6 84.5 C608.8 83.7 612.1 83.0 615.3 83.2 C618.5 83.4 621.7 84.2 624.9 85.7 C628.1 87.2 631.4 89.6 634.6 92.1 C637.8 94.6 641.0 97.8 644.2 100.9 C647.4 104.0 650.6 107.2 653.8 110.6 C657.0 113.9 660.3 117.7 663.5 121.0 C666.7 124.3 669.9 127.5 673.1 130.6 C676.3 133.7 679.5 136.8 682.7 139.5 C685.9 142.2 689.2 144.6 692.4 146.7 C695.6 148.8 698.8 150.6 702.0 152.0 C705.2 153.4 710.2 154.6 711.8 155.1 L711.8 155.1 C708.1 156.1 697.3 158.9 689.4 160.8 C681.5 162.7 672.8 164.7 664.5 166.6 C656.2 168.5 646.6 170.6 639.6 172.1 C632.6 173.6 625.1 175.2 622.2 175.8 L622.2 175.8 C619.8 176.2 612.4 177.3 608.0 178.5 C603.6 179.7 599.8 181.2 596.0 182.8 C592.2 184.4 588.6 185.9 585.0 188.2 C581.4 190.4 577.6 193.8 574.5 196.3 C571.4 198.8 569.1 201.1 566.4 203.4 C563.7 205.8 561.4 208.4 558.4 210.4 C555.4 212.4 552.1 214.2 548.4 215.2 C544.7 216.2 540.3 216.7 536.3 216.5 C532.3 216.3 528.0 215.4 524.3 214.2 C520.6 213.0 517.4 211.3 514.2 209.2 C511.0 207.1 508.5 205.0 505.2 201.4 C501.9 197.8 497.8 192.3 494.3 187.8 C490.8 183.3 487.6 178.7 484.2 174.3 C480.8 169.9 477.5 165.4 474.2 161.2 C470.9 157.0 467.5 152.9 464.1 149.2 C460.8 145.5 457.4 142.1 454.1 139.1 C450.8 136.1 447.4 133.1 444.1 131.1 C440.9 129.1 436.2 127.6 434.6 126.9 Z" fill="url(#s2base)"/><path d="M542.2 121.5 C543.5 120.9 546.6 120.0 550.0 117.8 C553.4 115.6 558.2 111.8 562.4 108.6 C566.5 105.4 570.8 101.4 574.9 98.6 C579.0 95.8 583.8 93.2 587.3 91.5 C590.8 89.8 593.0 89.3 596.0 88.1 C599.0 86.9 602.4 85.3 605.6 84.5 C608.8 83.7 612.1 83.0 615.3 83.2 C618.5 83.4 621.7 84.2 624.9 85.7 C628.1 87.2 631.4 89.6 634.6 92.1 C637.8 94.6 641.0 97.8 644.2 100.9 C647.4 104.0 650.6 107.2 653.8 110.6 C657.0 113.9 660.3 117.7 663.5 121.0 C666.7 124.3 669.9 127.5 673.1 130.6 C676.3 133.7 679.5 136.8 682.7 139.5 C685.9 142.2 689.2 144.6 692.4 146.7 C695.6 148.8 698.8 150.6 702.0 152.0 C705.2 153.4 710.2 154.6 711.8 155.1 L711.8 155.1 C708.1 156.1 697.3 158.9 689.4 160.8 C681.5 162.7 671.1 165.1 664.5 166.6 C657.9 168.1 652.1 169.5 649.6 170.1 L649.6 170.1 C648.4 169.6 645.0 168.7 642.1 167.1 C639.2 165.5 635.3 163.3 632.1 160.6 C628.9 157.9 626.1 154.4 623.0 151.0 C619.9 147.6 616.6 143.5 613.3 139.9 C610.0 136.3 606.9 132.5 603.4 129.3 C599.9 126.2 595.9 123.2 592.0 121.0 C588.1 118.8 584.1 117.2 580.0 116.2 C575.9 115.2 571.8 115.1 567.5 115.3 C563.2 115.5 558.7 116.3 554.5 117.3 C550.3 118.3 544.2 120.8 542.2 121.5 Z" fill="url(#s2yel)"/><path d="M621.7 99.3 C622.8 100.8 626.0 104.9 628.1 108.1 C630.2 111.3 632.5 115.0 634.6 118.6 C636.8 122.2 638.9 126.1 641.0 129.8 C643.1 133.6 645.3 137.6 647.4 141.1 C649.5 144.6 651.6 147.8 653.8 150.7 C655.9 153.6 658.4 156.0 660.3 158.7 C662.2 161.4 664.3 165.5 665.1 166.8 L665.1 166.8 C665.7 166.7 668.2 166.1 668.8 165.9 L668.8 165.9 C668.5 165.2 667.9 163.2 667.0 161.5 C666.1 159.8 665.2 158.1 663.5 155.5 C661.8 152.9 659.1 149.4 657.0 145.9 C654.9 142.4 653.0 139.0 650.6 134.7 C648.2 130.4 645.6 125.3 642.6 120.2 C639.6 115.1 635.4 108.0 632.9 104.1 C630.4 100.1 628.4 97.8 627.5 96.5 L627.5 96.5 C626.5 97.0 622.7 98.8 621.7 99.3 Z" fill="url(#s2yg)"/><path d="M627.5 96.5 C629.8 97.6 637.1 99.8 641.0 103.2 C644.9 106.6 647.4 112.3 650.6 117.0 C653.8 121.7 657.1 127.1 660.3 131.4 C663.5 135.7 666.7 139.5 669.9 142.7 C673.1 145.9 676.3 148.4 679.5 150.7 C682.7 152.9 686.4 154.8 689.0 156.2 C691.6 157.6 694.0 158.8 695.0 159.3 L695.0 159.3 C690.6 160.4 673.2 164.8 668.8 165.9 L668.8 165.9 C668.5 165.2 667.9 163.2 667.0 161.5 C666.1 159.8 665.2 158.1 663.5 155.5 C661.8 152.9 659.1 149.4 657.0 145.9 C654.9 142.4 653.0 139.0 650.6 134.7 C648.2 130.4 645.6 125.3 642.6 120.2 C639.6 115.1 635.4 108.0 632.9 104.1 C630.4 100.1 628.4 97.8 627.5 96.5 Z" fill="url(#s2pe)"/><path d="M542.2 121.5 C543.5 120.9 546.6 120.0 550.0 117.8 C553.4 115.6 558.2 111.8 562.4 108.6 C566.5 105.4 570.8 101.4 574.9 98.6 C579.0 95.8 585.0 92.8 587.3 91.5 C589.6 90.2 588.3 91.1 588.5 91.0 L588.5 91.0 C589.8 91.2 593.1 92.2 596.0 92.1 C598.9 92.0 602.6 90.4 605.6 90.5 C608.6 90.6 611.0 91.4 613.7 92.9 C616.4 94.4 619.3 96.8 621.7 99.3 C624.1 101.8 626.0 104.9 628.1 108.1 C630.2 111.3 632.5 115.0 634.6 118.6 C636.8 122.2 638.9 126.1 641.0 129.8 C643.1 133.6 645.3 137.6 647.4 141.1 C649.5 144.6 651.6 147.8 653.8 150.7 C655.9 153.6 658.4 156.0 660.3 158.7 C662.2 161.4 664.3 165.5 665.1 166.8 L665.1 166.8 C662.5 167.4 652.2 169.6 649.6 170.1 L649.6 170.1 C648.4 169.6 645.0 168.7 642.1 167.1 C639.2 165.5 635.3 163.3 632.1 160.6 C628.9 157.9 626.1 154.4 623.0 151.0 C619.9 147.6 616.6 143.5 613.3 139.9 C610.0 136.3 606.9 132.5 603.4 129.3 C599.9 126.2 595.9 123.2 592.0 121.0 C588.1 118.8 584.1 117.2 580.0 116.2 C575.9 115.2 571.8 115.1 567.5 115.3 C563.2 115.5 558.7 116.3 554.5 117.3 C550.3 118.3 544.2 120.8 542.2 121.5 Z" fill="url(#s2ol)"/><path d="M542.2 121.5 C544.2 120.8 550.3 118.3 554.5 117.3 C558.7 116.3 563.2 115.5 567.5 115.3 C571.8 115.1 575.9 115.2 580.0 116.2 C584.1 117.2 588.1 118.8 592.0 121.0 C595.9 123.2 599.9 126.2 603.4 129.3 C606.9 132.5 610.0 136.3 613.3 139.9 C616.6 143.5 619.9 147.6 623.0 151.0 C626.1 154.4 628.9 157.9 632.1 160.6 C635.3 163.3 639.2 165.5 642.1 167.1 C645.0 168.7 648.4 169.6 649.6 170.1 L649.6 170.1 C647.9 170.4 644.2 171.1 639.6 172.1 C635.0 173.1 625.8 175.7 622.2 175.8 C618.6 175.9 618.7 173.3 618.0 172.8 L618.0 172.8 C616.0 172.3 610.6 171.1 606.0 169.6 C601.4 168.1 596.4 166.3 590.4 163.8 C584.4 161.3 577.0 157.9 570.3 154.6 C563.6 151.3 557.2 147.8 550.2 144.0 C543.2 140.2 531.9 133.7 528.2 131.6 L528.2 130.1 C529.2 129.4 531.7 127.4 534.0 126.0 C536.3 124.6 540.8 122.2 542.2 121.5 Z" fill="url(#s2cy)"/><path d="M456.1 135.1 C459.2 135.4 468.5 136.5 475.0 136.8 C481.5 137.2 488.8 137.5 495.0 137.2 C501.2 136.9 506.5 135.7 512.0 134.8 C517.5 133.9 521.8 130.1 528.2 131.6 C534.6 133.1 543.2 140.2 550.2 144.0 C557.2 147.8 563.6 151.3 570.3 154.6 C577.0 157.9 584.4 161.3 590.4 163.8 C596.4 166.3 601.4 168.1 606.0 169.6 C610.6 171.1 616.0 172.3 618.0 172.8 L618.0 172.8 C616.0 173.4 610.3 175.2 606.0 176.5 C601.7 177.8 596.3 179.5 592.0 180.8 C587.7 182.1 584.3 183.0 580.0 184.3 C575.7 185.6 570.6 187.4 566.0 188.6 C561.4 189.8 556.8 190.8 552.5 191.4 C548.2 192.0 544.1 192.6 540.0 192.3 C535.9 192.0 531.8 190.9 528.0 189.6 C524.2 188.2 520.5 186.3 517.0 184.2 C513.5 182.1 510.4 179.7 507.0 177.2 C503.6 174.7 500.3 171.9 496.8 169.0 C493.3 166.1 489.6 162.7 486.2 159.6 C482.8 156.5 479.5 153.3 476.2 150.2 C472.9 147.1 469.5 143.8 466.1 141.2 C462.8 138.6 457.8 135.7 456.1 134.6 Z" fill="url(#s2blue)"/><path d="M456.1 135.1 C459.2 135.4 468.5 136.5 475.0 136.8 C481.5 137.2 488.8 137.5 495.0 137.2 C501.2 136.9 506.5 135.7 512.0 134.8 C517.5 133.9 521.8 130.1 528.2 131.6 C534.6 133.1 543.2 140.2 550.2 144.0 C557.2 147.8 563.6 151.3 570.3 154.6 C577.0 157.9 584.4 161.3 590.4 163.8 C596.4 166.3 601.4 168.1 606.0 169.6 C610.6 171.1 616.0 172.3 618.0 172.8 L618.0 172.8 C616.0 173.4 610.3 175.2 606.0 176.5 C601.7 177.8 596.3 179.5 592.0 180.8 C587.7 182.1 584.3 183.0 580.0 184.3 C575.7 185.6 570.6 187.4 566.0 188.6 C561.4 189.8 556.8 190.8 552.5 191.4 C548.2 192.0 544.1 192.6 540.0 192.3 C535.9 192.0 531.8 190.9 528.0 189.6 C524.2 188.2 520.5 186.3 517.0 184.2 C513.5 182.1 510.4 179.7 507.0 177.2 C503.6 174.7 500.3 171.9 496.8 169.0 C493.3 166.1 489.6 162.7 486.2 159.6 C482.8 156.5 479.5 153.3 476.2 150.2 C472.9 147.1 469.5 143.8 466.1 141.2 C462.8 138.6 457.8 135.7 456.1 134.6 Z" fill="url(#s2vt)"/><g clip-path="url(#s2vclip)"><path d="M515 160 L525 170.5 L535.5 180.6 L551 191.5 L541 194.5 L528 193 C521 185 516.5 174 515 160 Z" fill="url(#s2dk)" opacity="0.95" filter="url(#bl2)"/></g><g clip-path="url(#s2vclip)"><path d="M486.5 137.2 L490 137.4 L500.5 164 L497.5 163 Z" fill="#fff" opacity="0.14"/><path d="M469 137 L471.8 137.2 L483.8 152 L481.5 151.4 Z" fill="#fff" opacity="0.10"/><path d="M478 137 L480 137.2 L491 156.5 L489.3 156 Z" fill="#fff" opacity="0.10"/></g><path d="M434.6 126.9 C436.2 127.6 440.9 129.1 444.1 131.1 C447.4 133.1 450.8 136.1 454.1 139.1 C457.4 142.1 460.8 145.5 464.1 149.2 C467.5 152.9 470.9 157.0 474.2 161.2 C477.5 165.4 480.9 170.2 484.2 174.3 C487.5 178.4 490.4 182.6 493.8 186.0 C497.2 189.4 500.8 192.7 504.3 194.8 C507.8 196.9 511.1 197.9 515.0 198.8 C518.9 199.7 523.3 200.2 527.5 200.2 C531.7 200.2 535.6 199.7 540.0 198.9 C544.4 198.1 549.0 196.8 554.0 195.6 C559.0 194.4 564.7 193.3 570.0 191.8 C575.3 190.3 580.7 188.5 586.0 186.6 C591.3 184.7 597.3 182.3 602.0 180.6 C606.7 178.9 610.6 177.4 614.0 176.6 C617.4 175.8 620.8 175.9 622.2 175.8 L622.2 175.8 C619.8 176.2 612.4 177.3 608.0 178.5 C603.6 179.7 599.8 181.2 596.0 182.8 C592.2 184.4 588.6 185.9 585.0 188.2 C581.4 190.4 577.6 193.8 574.5 196.3 C571.4 198.8 569.1 201.1 566.4 203.4 C563.7 205.8 561.4 208.4 558.4 210.4 C555.4 212.4 552.1 214.2 548.4 215.2 C544.7 216.2 540.3 216.7 536.3 216.5 C532.3 216.3 528.0 215.4 524.3 214.2 C520.6 213.0 517.4 211.3 514.2 209.2 C511.0 207.1 508.5 205.0 505.2 201.4 C501.9 197.8 497.8 192.3 494.3 187.8 C490.8 183.3 487.6 178.7 484.2 174.3 C480.8 169.9 477.5 165.4 474.2 161.2 C470.9 157.0 467.5 152.9 464.1 149.2 C460.8 145.5 457.4 142.1 454.1 139.1 C450.8 136.1 447.4 133.1 444.1 131.1 C440.9 129.1 436.2 127.6 434.6 126.9 Z" fill="url(#s2low)"/><path d="M540.2 216.6 C541.9 215.6 547.2 212.8 550.2 210.4 C553.2 208.0 555.6 204.9 558.3 202.4 C561.0 199.9 562.9 197.6 566.3 195.4 C569.6 193.2 574.1 191.1 578.4 189.2 C582.7 187.3 589.7 185.0 592.0 184.2 L592.0 184.2 C590.8 184.9 587.9 186.2 585.0 188.2 C582.1 190.2 577.6 193.8 574.5 196.3 C571.4 198.8 569.1 201.1 566.4 203.4 C563.7 205.8 561.4 208.4 558.4 210.4 C555.4 212.4 551.4 214.2 548.4 215.2 C545.4 216.2 541.6 216.4 540.2 216.6 Z" fill="url(#s2bot)"/><path d="M434.6 126.9 C436.3 127.5 441.4 128.9 445.0 130.2 C448.6 131.5 452.6 132.8 456.1 134.6 C459.6 136.4 462.8 138.6 466.1 141.2 C469.5 143.8 472.9 147.1 476.2 150.2 C479.5 153.3 482.8 156.5 486.2 159.6 C489.6 162.7 493.3 166.1 496.8 169.0 C500.3 171.9 503.6 174.7 507.0 177.2 C510.4 179.7 513.5 182.1 517.0 184.2 C520.5 186.3 524.2 188.2 528.0 189.6 C531.8 190.9 535.9 192.0 540.0 192.3 C544.1 192.6 548.2 192.0 552.5 191.4 C556.8 190.8 561.4 189.8 566.0 188.6 C570.6 187.4 575.7 185.6 580.0 184.3 C584.3 183.0 587.7 182.1 592.0 180.8 C596.3 179.5 601.7 177.8 606.0 176.5 C610.3 175.2 616.0 173.4 618.0 172.8 L618.0 172.8 C618.7 173.3 621.5 175.3 622.2 175.8 L622.2 175.8 C620.8 175.9 617.4 175.8 614.0 176.6 C610.6 177.4 606.7 178.9 602.0 180.6 C597.3 182.3 591.3 184.7 586.0 186.6 C580.7 188.5 575.3 190.3 570.0 191.8 C564.7 193.3 559.0 194.4 554.0 195.6 C549.0 196.8 544.4 198.1 540.0 198.9 C535.6 199.7 531.7 200.2 527.5 200.2 C523.3 200.2 518.9 199.7 515.0 198.8 C511.1 197.9 507.8 196.9 504.3 194.8 C500.8 192.7 497.2 189.4 493.8 186.0 C490.4 182.6 487.5 178.4 484.2 174.3 C480.9 170.2 477.5 165.4 474.2 161.2 C470.9 157.0 467.5 152.9 464.1 149.2 C460.8 145.5 457.4 142.1 454.1 139.1 C450.8 136.1 447.4 133.1 444.1 131.1 C440.9 129.1 436.2 127.6 434.6 126.9 Z" fill="url(#s2gr)"/></g></svg>
<div class="t" style="left:128.4px;top:596.0px;font-size:13.0px;font-weight:bold;font-style:normal;color:#1a1a1a;transform:translate(-50%,-0.84em);font-family:'Liberation Serif',serif;">5</div>
<div class="t" style="left:210.8px;top:596.0px;font-size:13.0px;font-weight:bold;font-style:normal;color:#1a1a1a;transform:translate(-50%,-0.84em);font-family:'Liberation Serif',serif;">10</div>
<div class="t" style="left:293.2px;top:596.0px;font-size:13.0px;font-weight:bold;font-style:normal;color:#1a1a1a;transform:translate(-50%,-0.84em);font-family:'Liberation Serif',serif;">15</div>
<div class="t" style="left:375.6px;top:596.0px;font-size:13.0px;font-weight:bold;font-style:normal;color:#1a1a1a;transform:translate(-50%,-0.84em);font-family:'Liberation Serif',serif;">20</div>
<div class="t" style="left:458.0px;top:596.0px;font-size:13.0px;font-weight:bold;font-style:normal;color:#1a1a1a;transform:translate(-50%,-0.84em);font-family:'Liberation Serif',serif;">25</div>
<div class="t" style="left:540.4px;top:596.0px;font-size:13.0px;font-weight:bold;font-style:normal;color:#1a1a1a;transform:translate(-50%,-0.84em);font-family:'Liberation Serif',serif;">30</div>
<div class="t" style="left:622.8px;top:596.0px;font-size:13.0px;font-weight:bold;font-style:normal;color:#1a1a1a;transform:translate(-50%,-0.84em);font-family:'Liberation Serif',serif;">35</div>
<div class="t" style="left:705.2px;top:596.0px;font-size:13.0px;font-weight:bold;font-style:normal;color:#1a1a1a;transform:translate(-50%,-0.84em);font-family:'Liberation Serif',serif;">40</div>
<div class="t" style="left:74.2px;top:583.1px;font-size:13.0px;font-weight:bold;font-style:normal;color:#1a1a1a;transform:translate(-100%,-0.84em);font-family:'Liberation Serif',serif;">0</div>
<div class="t" style="left:74.2px;top:546.9px;font-size:13.0px;font-weight:bold;font-style:normal;color:#1a1a1a;transform:translate(-100%,-0.84em);font-family:'Liberation Serif',serif;">0.5</div>
<div class="t" style="left:74.2px;top:510.7px;font-size:13.0px;font-weight:bold;font-style:normal;color:#1a1a1a;transform:translate(-100%,-0.84em);font-family:'Liberation Serif',serif;">1</div>
<div class="t" style="left:74.2px;top:474.5px;font-size:13.0px;font-weight:bold;font-style:normal;color:#1a1a1a;transform:translate(-100%,-0.84em);font-family:'Liberation Serif',serif;">1.5</div>
<div class="t" style="left:74.2px;top:438.4px;font-size:13.0px;font-weight:bold;font-style:normal;color:#1a1a1a;transform:translate(-100%,-0.84em);font-family:'Liberation Serif',serif;">2</div>
<div class="t" style="left:74.2px;top:402.2px;font-size:13.0px;font-weight:bold;font-style:normal;color:#1a1a1a;transform:translate(-100%,-0.84em);font-family:'Liberation Serif',serif;">1</div>
<div class="t" style="left:74.2px;top:366.0px;font-size:13.0px;font-weight:bold;font-style:normal;color:#1a1a1a;transform:translate(-100%,-0.84em);font-family:'Liberation Serif',serif;">3</div>
<div class="t" style="left:264.5px;top:543.8px;font-size:13.0px;font-weight:bold;font-style:normal;color:#1a1a1a;transform:translate(-50%,-0.84em);font-family:'Liberation Serif',serif;">15</div>
<div class="t" style="left:302.2px;top:543.8px;font-size:13.0px;font-weight:bold;font-style:normal;color:#1a1a1a;transform:translate(-50%,-0.84em);font-family:'Liberation Serif',serif;">16</div>
<div class="t" style="left:339.8px;top:543.8px;font-size:13.0px;font-weight:bold;font-style:normal;color:#1a1a1a;transform:translate(-50%,-0.84em);font-family:'Liberation Serif',serif;">17</div>
<div class="t" style="left:377.5px;top:543.8px;font-size:13.0px;font-weight:bold;font-style:normal;color:#1a1a1a;transform:translate(-50%,-0.84em);font-family:'Liberation Serif',serif;">18</div>
<div class="t" style="left:415.1px;top:543.8px;font-size:13.0px;font-weight:bold;font-style:normal;color:#1a1a1a;transform:translate(-50%,-0.84em);font-family:'Liberation Serif',serif;">19</div>
<div class="t" style="left:452.8px;top:543.8px;font-size:13.0px;font-weight:bold;font-style:normal;color:#1a1a1a;transform:translate(-50%,-0.84em);font-family:'Liberation Serif',serif;">20</div>
<div class="t" style="left:260.5px;top:530.9px;font-size:13.0px;font-weight:bold;font-style:normal;color:#1a1a1a;transform:translate(-100%,-0.84em);font-family:'Liberation Serif',serif;">0</div>
<div class="t" style="left:260.5px;top:488.1px;font-size:13.0px;font-weight:bold;font-style:normal;color:#1a1a1a;transform:translate(-100%,-0.84em);font-family:'Liberation Serif',serif;">0.5</div>
<div class="t" style="left:260.5px;top:445.3px;font-size:13.0px;font-weight:bold;font-style:normal;color:#1a1a1a;transform:translate(-100%,-0.84em);font-family:'Liberation Serif',serif;">1</div>
<div class="t" style="left:501.5px;top:556.4px;font-size:13.0px;font-weight:bold;font-style:normal;color:#1a1a1a;transform:translate(-50%,-0.84em);font-family:'Liberation Serif',serif;">25</div>
<div class="t" style="left:538.9px;top:556.4px;font-size:13.0px;font-weight:bold;font-style:normal;color:#1a1a1a;transform:translate(-50%,-0.84em);font-family:'Liberation Serif',serif;">26</div>
<div class="t" style="left:576.3px;top:556.4px;font-size:13.0px;font-weight:bold;font-style:normal;color:#1a1a1a;transform:translate(-50%,-0.84em);font-family:'Liberation Serif',serif;">27</div>
<div class="t" style="left:613.7px;top:556.4px;font-size:13.0px;font-weight:bold;font-style:normal;color:#1a1a1a;transform:translate(-50%,-0.84em);font-family:'Liberation Serif',serif;">28</div>
<div class="t" style="left:651.1px;top:556.4px;font-size:13.0px;font-weight:bold;font-style:normal;color:#1a1a1a;transform:translate(-50%,-0.84em);font-family:'Liberation Serif',serif;">29</div>
<div class="t" style="left:688.5px;top:556.4px;font-size:13.0px;font-weight:bold;font-style:normal;color:#1a1a1a;transform:translate(-50%,-0.84em);font-family:'Liberation Serif',serif;">30</div>
<div class="t" style="left:497.4px;top:543.1px;font-size:13.0px;font-weight:bold;font-style:normal;color:#1a1a1a;transform:translate(-100%,-0.84em);font-family:'Liberation Serif',serif;">0</div>
<div class="t" style="left:497.4px;top:470.5px;font-size:13.0px;font-weight:bold;font-style:normal;color:#1a1a1a;transform:translate(-100%,-0.84em);font-family:'Liberation Serif',serif;">0.5</div>
<div class="t" style="left:543.3px;top:381.2px;font-size:21.0px;font-weight:normal;font-style:normal;color:#2a2a2a;transform:translate(0,-0.84em);letter-spacing:0.45px;word-spacing:2px;">Max fuzzy<span style="letter-spacing:0.5px">||</span><i>e</i><sub class="s1">1</sub><span style="letter-spacing:0.5px">||</span><span class="ss"><sup>2</sup><sub>L<span style="font-size:70%;position:relative;top:-0.35em">2</span></sub></span></div>
<div class="t" style="left:543.3px;top:405.7px;font-size:21.0px;font-weight:normal;font-style:normal;color:#2a2a2a;transform:translate(0,-0.84em);letter-spacing:0.45px;word-spacing:2px;">Max fuzzy<span style="letter-spacing:0.5px">||</span><i>e</i><sub class="s1">2</sub><span style="letter-spacing:0.5px">||</span><span class="ss"><sup>2</sup><sub>L<span style="font-size:70%;position:relative;top:-0.35em">2</span></sub></span></div>
<div class="t" style="left:543.3px;top:430.4px;font-size:21.0px;font-weight:normal;font-style:normal;color:#2a2a2a;transform:translate(0,-0.84em);letter-spacing:0.45px;word-spacing:2px;">Max&nbsp;<span style="letter-spacing:0.5px">||</span><i>e</i><sub class="s1">1</sub><span style="letter-spacing:0.5px">||</span><span class="ss"><sup>2</sup><sub>L<span style="font-size:70%;position:relative;top:-0.35em">2</span></sub></span></div>
<div class="t" style="left:543.3px;top:455.1px;font-size:21.0px;font-weight:normal;font-style:normal;color:#2a2a2a;transform:translate(0,-0.84em);letter-spacing:0.45px;word-spacing:2px;">Max&nbsp;<span style="letter-spacing:0.5px">||</span><i>e</i><sub class="s1">2</sub><span style="letter-spacing:0.5px">||</span><span class="ss"><sup>2</sup><sub>L<span style="font-size:70%;position:relative;top:-0.35em">2</span></sub></span></div>
<div class="t" style="left:45.5px;top:474.3px;font-size:14.2px;font-weight:normal;color:#303030;transform:translate(-50%,-50%) rotate(-90deg);padding:0;letter-spacing:1.00px">Maximum&nbsp;<span style="letter-spacing:0.5px">||</span><i>e</i><span style="letter-spacing:0.5px">||</span><span class="ss"><sup>2</sup><sub>L<span style="font-size:70%;position:relative;top:-0.35em">2</span></sub></span></div>
<div class="t" style="left:228.0px;top:483.5px;font-size:14.6px;font-weight:normal;color:#303030;transform:translate(-50%,-50%) rotate(-90deg);padding:0;letter-spacing:1.00px">Maximum&nbsp;<span style="letter-spacing:0.5px">||</span><i>e</i><span style="letter-spacing:0.5px">||</span><span class="ss"><sup>2</sup><sub>L<span style="font-size:70%;position:relative;top:-0.35em">2</span></sub></span></div>
<div class="t" style="left:469.0px;top:505.3px;font-size:13.6px;font-weight:normal;color:#303030;transform:translate(-50%,-50%) rotate(-90deg);padding:0;letter-spacing:0.95px">Maximum&nbsp;<span style="letter-spacing:0.5px">||</span><i>e</i><span style="letter-spacing:0.5px">||</span><span class="ss"><sup>2</sup><sub>L<span style="font-size:70%;position:relative;top:-0.35em">2</span></sub></span></div>
<div class="t" style="left:392.6px;top:611.0px;font-size:15.0px;font-weight:normal;font-style:normal;color:#262626;transform:translate(-50%,-0.84em);letter-spacing:0.45px;">Iterative Number</div>
<div class="t" style="left:357.7px;top:559.5px;font-size:15.0px;font-weight:normal;font-style:normal;color:#262626;transform:translate(-50%,-0.84em);letter-spacing:0.5px;">Iterative Number</div>
<div class="t" style="left:595.0px;top:572.5px;font-size:15.0px;font-weight:normal;font-style:normal;color:#262626;transform:translate(-50%,-0.84em);letter-spacing:0.5px;">Iterative Number</div>
<div class="t" style="left:207.0px;top:26.5px;font-size:17.5px;font-weight:normal;font-style:normal;color:#222;transform:translate(-50%,-0.84em);letter-spacing:0.45px;"><i>e</i><sub class="s1">1<i>k</i></sub>(<i>k</i>&nbsp;=&nbsp;12)</div>
<div class="t" style="left:574.0px;top:26.5px;font-size:17.5px;font-weight:normal;font-style:normal;color:#222;transform:translate(-50%,-0.84em);letter-spacing:0.45px;"><i>e</i><sub class="s1">2<i>k</i></sub>(<i>k</i>&nbsp;=&nbsp;12)</div>
<div class="t" style="left:374.0px;top:331.6px;font-size:10.4px;font-weight:normal;font-style:normal;color:#111;transform:translate(-50%,-0.84em);letter-spacing:0.78px;"><b>Fig. 3.</b> Error surface when <i>k</i> = 12.</div>
<div class="t" style="left:59.3px;top:71.9px;font-size:11.0px;font-weight:bold;font-style:normal;color:#1a1a1a;transform:translate(-100%,-0.84em);">5</div>
<div class="t" style="left:59.3px;top:124.9px;font-size:11.0px;font-weight:bold;font-style:normal;color:#1a1a1a;transform:translate(-100%,-0.84em);">0</div>
<div class="t" style="left:59.3px;top:177.9px;font-size:11.0px;font-weight:bold;font-style:normal;color:#1a1a1a;transform:translate(-100%,-0.84em);">-5</div>
<div class="t" style="left:59.3px;top:228.8px;font-size:11.0px;font-weight:bold;font-style:normal;color:#1a1a1a;transform:translate(-100%,-0.84em);">-10</div>
<div class="t" style="left:190.9px;top:297.5px;font-size:11.0px;font-weight:bold;font-style:normal;color:#1a1a1a;transform:translate(0,-0.84em);">0</div>
<div class="t" style="left:271.9px;top:277.8px;font-size:11.0px;font-weight:bold;font-style:normal;color:#1a1a1a;transform:translate(0,-0.84em);">0.5</div>
<div class="t" style="left:352.9px;top:258.0px;font-size:11.0px;font-weight:bold;font-style:normal;color:#1a1a1a;transform:translate(0,-0.84em);">1</div>
<div class="t" style="left:176.0px;top:296.4px;font-size:11.0px;font-weight:bold;font-style:normal;color:#1a1a1a;transform:translate(-100%,-0.84em);">0</div>
<div class="t" style="left:117.5px;top:268.7px;font-size:11.0px;font-weight:bold;font-style:normal;color:#1a1a1a;transform:translate(-100%,-0.84em);">0.5</div>
<div class="t" style="left:59.0px;top:240.9px;font-size:11.0px;font-weight:bold;font-style:normal;color:#1a1a1a;transform:translate(-100%,-0.84em);">1</div>
<div class="t" style="left:102.5px;top:280.0px;font-size:15.5px;font-weight:normal;font-style:normal;color:#333;transform:translate(-50%,-0.84em);"><i>t</i></div>
<div class="t" style="left:37.6px;top:54.8px;font-size:11.8px;font-weight:bold;font-style:normal;color:#1a1a1a;transform:translate(0,-0.84em);">&times;10<sup style="font-size:82%;position:relative;top:-0.45em;vertical-align:baseline">-4</sup></div>
<div class="t" style="left:426.2px;top:97.8px;font-size:11.0px;font-weight:bold;font-style:normal;color:#1a1a1a;transform:translate(-100%,-0.84em);">1</div>
<div class="t" style="left:426.2px;top:127.4px;font-size:11.0px;font-weight:bold;font-style:normal;color:#1a1a1a;transform:translate(-100%,-0.84em);">0</div>
<div class="t" style="left:426.2px;top:157.0px;font-size:11.0px;font-weight:bold;font-style:normal;color:#1a1a1a;transform:translate(-100%,-0.84em);">-1</div>
<div class="t" style="left:426.2px;top:186.6px;font-size:11.0px;font-weight:bold;font-style:normal;color:#1a1a1a;transform:translate(-100%,-0.84em);">-2</div>
<div class="t" style="left:426.2px;top:216.2px;font-size:11.0px;font-weight:bold;font-style:normal;color:#1a1a1a;transform:translate(-100%,-0.84em);">-3</div>
<div class="t" style="left:543.8px;top:298.7px;font-size:11.0px;font-weight:bold;font-style:normal;color:#1a1a1a;transform:translate(0,-0.84em);">0</div>
<div class="t" style="left:579.2px;top:291.2px;font-size:11.0px;font-weight:bold;font-style:normal;color:#1a1a1a;transform:translate(0,-0.84em);">0.2</div>
<div class="t" style="left:614.5px;top:283.6px;font-size:11.0px;font-weight:bold;font-style:normal;color:#1a1a1a;transform:translate(0,-0.84em);">0.4</div>
<div class="t" style="left:649.9px;top:276.0px;font-size:11.0px;font-weight:bold;font-style:normal;color:#1a1a1a;transform:translate(0,-0.84em);">0.6</div>
<div class="t" style="left:685.2px;top:268.4px;font-size:11.0px;font-weight:bold;font-style:normal;color:#1a1a1a;transform:translate(0,-0.84em);">0.8</div>
<div class="t" style="left:508.5px;top:283.2px;font-size:11.0px;font-weight:bold;font-style:normal;color:#1a1a1a;transform:translate(-100%,-0.84em);">0.2</div>
<div class="t" style="left:487.9px;top:269.7px;font-size:11.0px;font-weight:bold;font-style:normal;color:#1a1a1a;transform:translate(-100%,-0.84em);">0.4</div>
<div class="t" style="left:467.2px;top:256.2px;font-size:11.0px;font-weight:bold;font-style:normal;color:#1a1a1a;transform:translate(-100%,-0.84em);">0.6</div>
<div class="t" style="left:446.6px;top:242.7px;font-size:11.0px;font-weight:bold;font-style:normal;color:#1a1a1a;transform:translate(-100%,-0.84em);">0.8</div>
<div class="t" style="left:425.9px;top:229.2px;font-size:11.0px;font-weight:bold;font-style:normal;color:#1a1a1a;transform:translate(-100%,-0.84em);">1</div>
<div class="t" style="left:446.0px;top:268.0px;font-size:15.5px;font-weight:normal;font-style:normal;color:#333;transform:translate(-50%,-0.84em);"><i>t</i></div>
<div class="t" style="left:404.5px;top:56.0px;font-size:11.8px;font-weight:bold;font-style:normal;color:#1a1a1a;transform:translate(0,-0.84em);">&times;10<sup style="font-size:82%;position:relative;top:-0.45em;vertical-align:baseline">-3</sup></div>
</body></html>
